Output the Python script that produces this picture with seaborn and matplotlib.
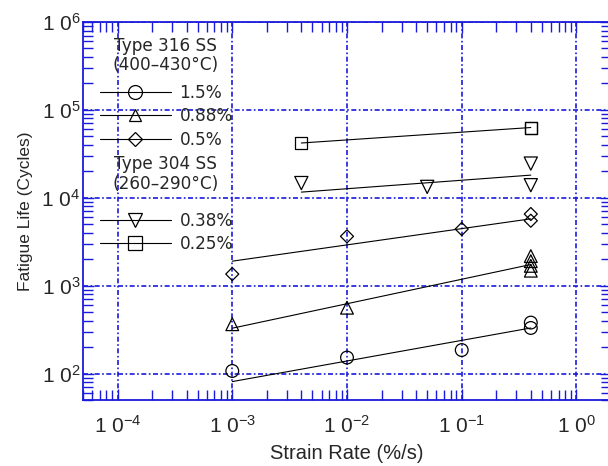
import numpy as np
import pandas as pd
import seaborn as sns
import matplotlib
matplotlib.use("Agg")
import matplotlib.pyplot as plt
from matplotlib.lines import Line2D
from matplotlib.ticker import LogLocator, FixedLocator, NullFormatter

# ---------------- data ----------------
series_labels = ["1.5%", "0.88%", "0.5%", "0.38%", "0.25%"]
markers = ["o", "^", "D", "v", "s"]
group_titles = ["Type 316 SS\n(400\u2013430\u00b0C)", "Type 304 SS\n(260\u2013290\u00b0C)"]

rate_15 = [1e-3, 1e-2, 1e-1, 0.4, 0.4]
life_15 = [107, 152, 185, 380, 330]

rate_088 = [1e-3, 1e-2, 0.4, 0.4, 0.4, 0.4]
life_088 = [364, 561, 2170, 1900, 1680, 1480]

rate_05 = [1e-3, 1e-2, 1e-1, 0.4, 0.4]
life_05 = [1355, 3640, 4410, 6530, 5480]

rate_038 = [0.004, 0.05, 0.4, 0.4]
life_038 = [14700, 13300, 24500, 13900]

rate_025 = [0.004, 0.4, 0.4]
life_025 = [42100, 63000, 62000]

# best-fit line end points
fit_rate_15 = [1e-3, 0.4];   fit_life_15 = [81, 330]
fit_rate_088 = [1e-3, 0.4];  fit_life_088 = [328, 1740]
fit_rate_05 = [1e-3, 0.4];   fit_life_05 = [1900, 5760]
fit_rate_038 = [0.004, 0.4]; fit_life_038 = [11600, 18100]
fit_rate_025 = [0.004, 0.4]; fit_life_025 = [42000, 63000]

x_ticks = [1e-4, 1e-3, 1e-2, 1e-1, 1e0]
x_tick_labels = ["1 0$^{-4}$", "1 0$^{-3}$", "1 0$^{-2}$", "1 0$^{-1}$", "1 0$^{0}$"]
y_ticks = [1e2, 1e3, 1e4, 1e5, 1e6]
y_tick_labels = ["1 0$^{2}$", "1 0$^{3}$", "1 0$^{4}$", "1 0$^{5}$", "1 0$^{6}$"]

# ---------------- style ----------------
sns.set_theme(style="white")
plt.rcParams["font.family"] = ["Liberation Sans", "DejaVu Sans"]
plt.rcParams["mathtext.fontset"] = "custom"
plt.rcParams["mathtext.rm"] = "Liberation Sans"
plt.rcParams["mathtext.it"] = "Liberation Sans"
plt.rcParams["mathtext.bf"] = "Liberation Sans"

BLUE = "#1a1adc"
LEG_FONT = ["DejaVu Sans"]
LEG_SIZE = 12.2

points = pd.concat([
    pd.DataFrame({"rate": rate_15, "life": life_15, "s": series_labels[0]}),
    pd.DataFrame({"rate": rate_088, "life": life_088, "s": series_labels[1]}),
    pd.DataFrame({"rate": rate_05, "life": life_05, "s": series_labels[2]}),
    pd.DataFrame({"rate": rate_038, "life": life_038, "s": series_labels[3]}),
    pd.DataFrame({"rate": rate_025, "life": life_025, "s": series_labels[4]}),
], ignore_index=True)

fits = pd.concat([
    pd.DataFrame({"rate": fit_rate_15, "life": fit_life_15, "s": series_labels[0]}),
    pd.DataFrame({"rate": fit_rate_088, "life": fit_life_088, "s": series_labels[1]}),
    pd.DataFrame({"rate": fit_rate_05, "life": fit_life_05, "s": series_labels[2]}),
    pd.DataFrame({"rate": fit_rate_038, "life": fit_life_038, "s": series_labels[3]}),
    pd.DataFrame({"rate": fit_rate_025, "life": fit_life_025, "s": series_labels[4]}),
], ignore_index=True)

fig = plt.figure(figsize=(6.08, 4.66), dpi=100)
ax = fig.add_axes([83 / 608, 66 / 466, 528 / 608, 378 / 466])
ax.set_xscale("log")
ax.set_yscale("log")
ax.set_xlim(5e-5, 2)
ax.set_ylim(50, 1e6)

# fit lines
for lab in series_labels:
    sub = fits[fits.s == lab]
    sns.lineplot(data=sub, x="rate", y="life", ax=ax, color="black", lw=0.8,
                 estimator=None, sort=False, legend=False, zorder=3)

# markers
msizes = {"o": 84, "^": 84, "D": 44, "v": 90, "s": 75}
for lab, mk in zip(series_labels, markers):
    sub = points[points.s == lab]
    sns.scatterplot(data=sub, x="rate", y="life", ax=ax, marker=mk,
                    s=msizes[mk], facecolors="none", edgecolors="black",
                    linewidths=0.9, legend=False, zorder=4)

# axes styling
for sp in ax.spines.values():
    sp.set_color(BLUE)
    sp.set_linewidth(1.3)

ax.xaxis.set_major_locator(FixedLocator(x_ticks))
ax.set_xticklabels(x_tick_labels)
ax.yaxis.set_major_locator(FixedLocator(y_ticks))
ax.set_yticklabels(y_tick_labels)
ax.xaxis.set_minor_locator(LogLocator(base=10, subs=np.arange(2, 10), numticks=20))
ax.yaxis.set_minor_locator(LogLocator(base=10, subs=np.arange(2, 10), numticks=20))
ax.xaxis.set_minor_formatter(NullFormatter())
ax.yaxis.set_minor_formatter(NullFormatter())
ax.tick_params(which="both", direction="in", color=BLUE, top=True, right=True,
               bottom=True, left=True, width=1.0)
ax.tick_params(which="major", length=8, labelsize=15)
ax.tick_params(which="minor", length=7)
ax.tick_params(axis="y", which="major", pad=2)
ax.tick_params(axis="x", which="major", pad=10.5)

ax.grid(True, which="major", color=BLUE, linestyle=(0, (3, 1.5, 1, 1.5)), linewidth=1.2)

ax.set_xlabel("Strain Rate (%/s)", fontsize=14.5, labelpad=5.5)
ax.set_ylabel("Fatigue Life (Cycles)", fontsize=12.5, labelpad=6)

# legend
def handle(mk, ms):
    return Line2D([], [], color="black", lw=0.8, marker=mk, markersize=ms,
                  markerfacecolor="none", markeredgecolor="black", markeredgewidth=0.9)

ax.text(0.156, 0.911, group_titles[0], transform=ax.transAxes, ha="center", va="center",
        multialignment="center", fontsize=LEG_SIZE, family=LEG_FONT, linespacing=1.08)
ax.text(0.156, 0.598, group_titles[1], transform=ax.transAxes, ha="center", va="center",
        multialignment="center", fontsize=LEG_SIZE, family=LEG_FONT, linespacing=1.08)

leg_kw = dict(frameon=False, handlelength=4.2, handletextpad=0.5, borderpad=0,
              borderaxespad=0, loc="center left", prop={"family": LEG_FONT, "size": LEG_SIZE})
hs1 = [handle("o", 10), handle("^", 8.5), handle("D", 7)]
leg1 = ax.legend(hs1, series_labels[:3], bbox_to_anchor=(0.032, 0.751),
                 labelspacing=0.33, **leg_kw)
ax.add_artist(leg1)
hs2 = [handle("v", 10), handle("s", 9.5)]
leg2 = ax.legend(hs2, series_labels[3:], bbox_to_anchor=(0.032, 0.443),
                 labelspacing=0.28, **leg_kw)

fig.savefig("out.png", dpi=100)
